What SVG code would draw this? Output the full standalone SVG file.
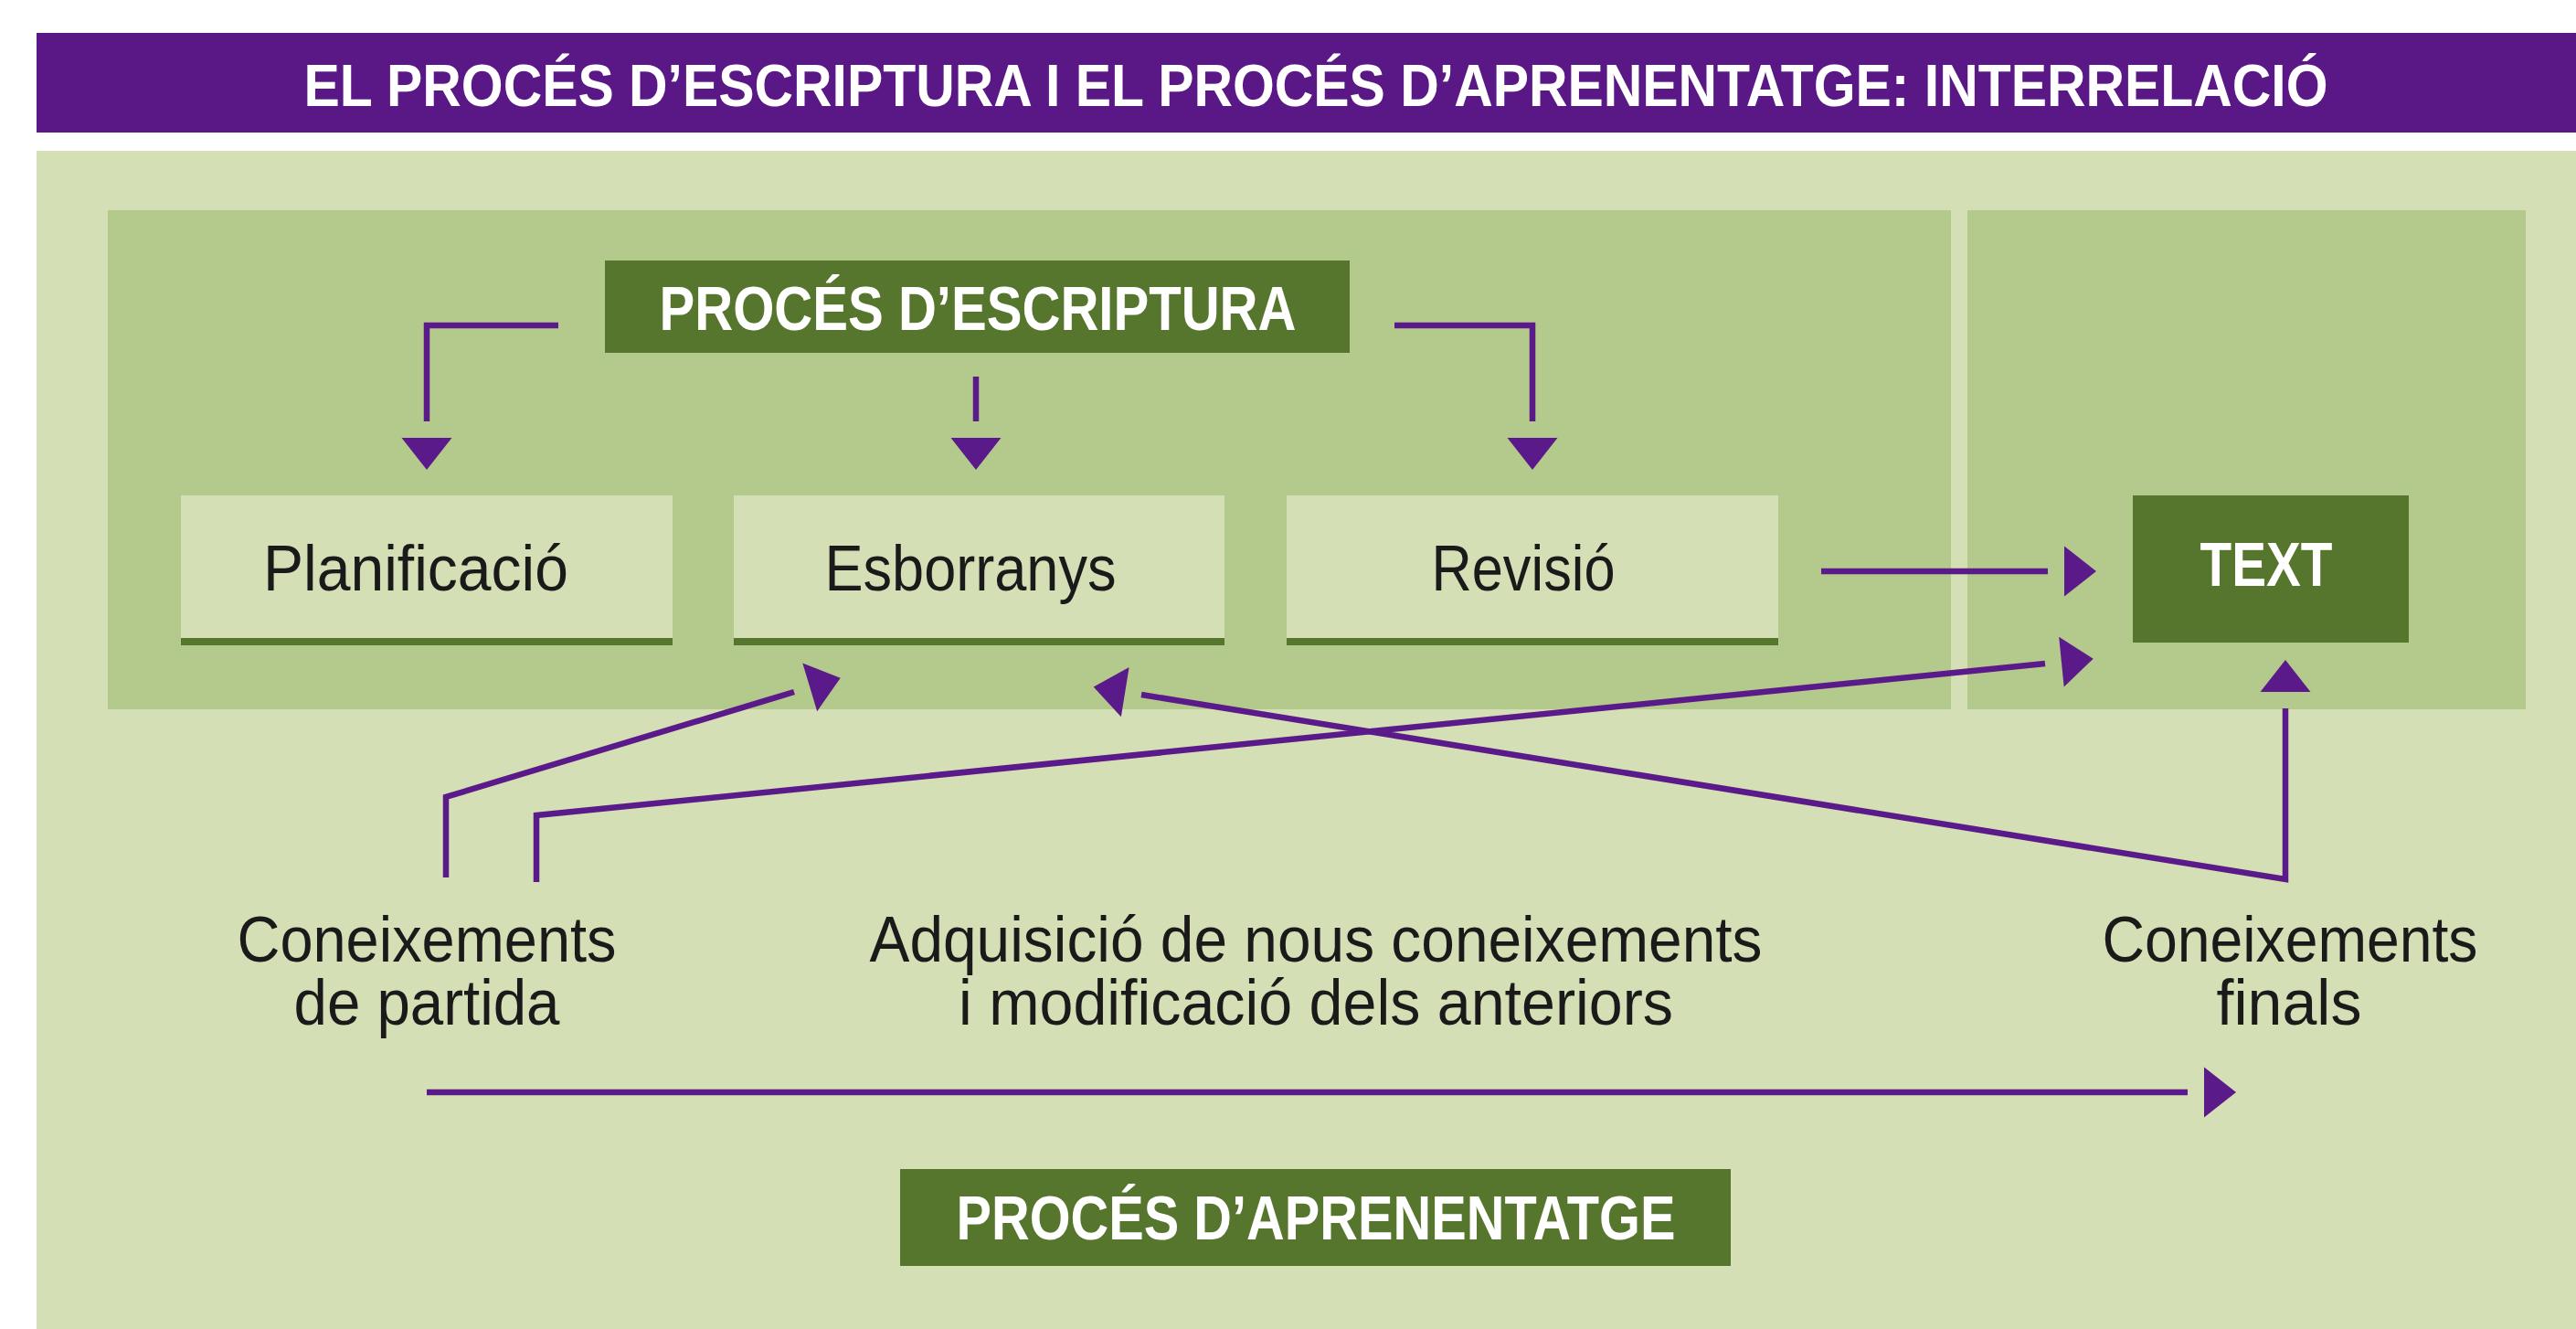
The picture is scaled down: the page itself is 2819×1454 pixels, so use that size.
<svg xmlns="http://www.w3.org/2000/svg" width="2819" height="1454" viewBox="0 0 2819 1454">
<style>
.bg{fill:#d4dfb5}
.panel{fill:#b4ca8d}
.dark{fill:#56752d}
.box{fill:#d4dfb5}
.hd{font-family:"Liberation Sans",Arial,sans-serif;font-weight:bold;fill:#ffffff;font-size:68px}
.lbl{font-family:"Liberation Sans",Arial,sans-serif;fill:#1a1a1a;font-size:70px}
.conn{fill:none;stroke:#5b1a8a;stroke-width:6.5;stroke-linejoin:miter}
</style>
<defs>
<marker id="ah" markerUnits="userSpaceOnUse" markerWidth="35" markerHeight="55" refX="-18" refY="27.5" orient="auto-start-reverse" overflow="visible">
<path d="M0,0 L35,27.5 L0,55 z" fill="#5b1a8a"/>
</marker>
</defs>

<rect x="0" y="0" width="2819" height="1454" fill="#ffffff"/>
<g id="title">
<rect x="40" y="36" width="2779" height="109" fill="#5a1886"/>
<text class="hd" x="1440" y="116" text-anchor="middle" style="font-size:65px" textLength="2215" lengthAdjust="spacingAndGlyphs">EL PROCÉS D’ESCRIPTURA I EL PROCÉS D’APRENENTATGE: INTERRELACIÓ</text>
</g>

<rect class="bg" x="40" y="165" width="2779" height="1289"/>
<rect class="panel" x="118" y="230" width="2017" height="546"/>
<rect class="panel" x="2153" y="230" width="611" height="546"/>

<g id="proces-escriptura">
<rect class="dark" x="662" y="285" width="815" height="101"/>
<text class="hd" x="1070" y="361" text-anchor="middle" textLength="697" lengthAdjust="spacingAndGlyphs">PROCÉS D’ESCRIPTURA</text>
</g>

<g id="planificacio">
<rect class="box" x="198" y="542" width="538" height="156"/>
<rect class="dark" x="198" y="698" width="538" height="8"/>
<text class="lbl" x="455" y="646" text-anchor="middle" textLength="334" lengthAdjust="spacingAndGlyphs">Planificació</text>
</g>

<g id="esborranys">
<rect class="box" x="803" y="542" width="537" height="156"/>
<rect class="dark" x="803" y="698" width="537" height="8"/>
<text class="lbl" x="1062" y="646" text-anchor="middle" textLength="319" lengthAdjust="spacingAndGlyphs">Esborranys</text>
</g>

<g id="revisio">
<rect class="box" x="1408" y="542" width="538" height="156"/>
<rect class="dark" x="1408" y="698" width="538" height="8"/>
<text class="lbl" x="1667" y="646" text-anchor="middle" textLength="201" lengthAdjust="spacingAndGlyphs">Revisió</text>
</g>

<g id="text-node">
<rect class="dark" x="2334" y="542" width="302" height="161"/>
<text class="hd" x="2480" y="641" text-anchor="middle" textLength="145" lengthAdjust="spacingAndGlyphs">TEXT</text>
</g>

<g id="coneixements-partida">
<text class="lbl" text-anchor="middle"><tspan x="467" y="1052" textLength="415" lengthAdjust="spacingAndGlyphs">Coneixements</tspan><tspan x="467" y="1121" textLength="291" lengthAdjust="spacingAndGlyphs">de partida</tspan></text>
</g>

<g id="adquisicio">
<text class="lbl" text-anchor="middle"><tspan x="1440" y="1052" textLength="977" lengthAdjust="spacingAndGlyphs">Adquisició de nous coneixements</tspan><tspan x="1440" y="1121" textLength="782" lengthAdjust="spacingAndGlyphs">i modificació dels anteriors</tspan></text>
</g>

<g id="coneixements-finals">
<text class="lbl" text-anchor="middle"><tspan x="2506" y="1052" textLength="411" lengthAdjust="spacingAndGlyphs">Coneixements</tspan><tspan x="2505" y="1121" textLength="159" lengthAdjust="spacingAndGlyphs">finals</tspan></text>
</g>

<g id="proces-aprenentatge">
<rect class="dark" x="985" y="1279" width="909" height="106"/>
<text class="hd" x="1440" y="1356" text-anchor="middle" textLength="787" lengthAdjust="spacingAndGlyphs">PROCÉS D’APRENENTATGE</text>
</g>

<g id="connectors">
<path class="conn" d="M611,356 H467 V461" marker-end="url(#ah)"/>
<path class="conn" d="M1068,412 V461" marker-end="url(#ah)"/>
<path class="conn" d="M1526,356 H1677 V461" marker-end="url(#ah)"/>
<path class="conn" d="M1993,625 H2241" marker-end="url(#ah)"/>
<path class="conn" d="M488,960 V872 L869,757" marker-end="url(#ah)"/>
<path class="conn" d="M587,965 V892 L2238,726" marker-end="url(#ah)"/>
<path class="conn" d="M1249,760 L2501,962 V775" marker-start="url(#ah)" marker-end="url(#ah)"/>
<path class="conn" d="M467,1195 H2394" marker-end="url(#ah)"/>
</g>
</svg>
